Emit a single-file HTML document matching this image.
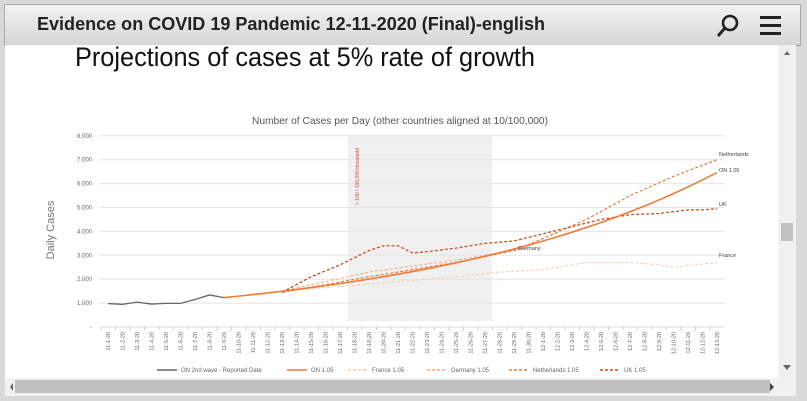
<!DOCTYPE html>
<html><head><meta charset="utf-8"><style>
body{margin:0;width:807px;height:400px;overflow:hidden;background:#d8d8d8;font-family:"Liberation Sans",sans-serif}
#hdr{position:absolute;left:4px;top:4px;width:795px;height:40px;background:linear-gradient(#f2f2f2,#d6d6d6);border:1px solid #aaa;border-bottom:1px solid #999}
#page{position:absolute;left:5px;top:45px;width:773px;height:333px;background:#fff}
#vs{position:absolute;left:778px;top:45px;width:18px;height:333px;background:#f0f0f0}
#hs{position:absolute;left:5px;top:378px;width:791px;height:18px;background:#f0f0f0}
</style></head><body>
<div id="hdr">
<svg style="position:absolute;left:708px;top:8px" width="70" height="26"><circle cx="17" cy="10" r="7" fill="none" stroke="#222" stroke-width="2.6"/><line x1="12" y1="15" x2="5" y2="23" stroke="#222" stroke-width="3"/><rect x="47" y="3" width="21" height="3" fill="#222"/><rect x="47" y="11" width="21" height="3" fill="#222"/><rect x="47" y="19" width="21" height="3" fill="#222"/></svg></div>
<div id="page"></div>
<div id="vs"><svg width="18" height="333"><polygon points="6,10 12,10 9,6" fill="#666"/><rect x="3" y="178" width="12" height="18" fill="#c0c0c0"/><polygon points="5,44 13,44 9,49" fill="#666" transform="translate(0,276)"/></svg></div>
<div id="hs"><svg width="791" height="18"><rect x="10" y="2" width="755" height="13" fill="#bfbfbf"/><polygon points="3,5 3,13 0,9" fill="#666" transform="translate(5,0)"/><polygon points="763,5 763,13 767,9" fill="#444" transform="translate(2,0)"/></svg></div>
<svg id="c" style="position:absolute;left:0;top:0" width="807" height="400"></svg>
<script>
const s=document.getElementById('c');let h='';
const X=d=>108+d*14.5, Y=v=>327-v*0.0239;
h+=`<text x="37" y="30" font-size="18" font-weight="bold" fill="#222" textLength="508" lengthAdjust="spacingAndGlyphs">Evidence on COVID 19 Pandemic 12-11-2020 (Final)-english</text>`;
h+=`<text x="75" y="66" font-size="27" fill="#111" textLength="460" lengthAdjust="spacingAndGlyphs">Projections of cases at 5% rate of growth</text>`;
h+=`<text x="400" y="124" font-size="10" fill="#555" text-anchor="middle" textLength="296" lengthAdjust="spacingAndGlyphs">Number of Cases per Day (other countries aligned at 10/100,000)</text>`;
h+=`<rect x="348" y="136" width="144" height="185" fill="#f0f0f0"/>`;
for(let i=0;i<=8;i++){const y=Y(i*1000);if(i>0)h+=`<line x1="100" x2="724" y1="${y}" y2="${y}" stroke="#e4e4e4"/>`;h+=`<text x="92" y="${y+2}" font-size="6" fill="#666" text-anchor="end">${i?(i+',000'):'-'}</text>`}
h+=`<line x1="100" x2="724" y1="327" y2="327" stroke="#ddd"/>`;
h+=`<text transform="translate(54,230) rotate(-90)" font-size="11" fill="#777" text-anchor="middle">Daily Cases</text>`;
h+=`<text transform="translate(359,205) rotate(-90)" font-size="5" fill="#d04020">&gt; 100 / 100,000 threshold</text>`;
for(let d=0;d<43;d++){const m=d<30?11:12,dd=d<30?d+1:d-29;h+=`<line x1="${X(d)-7}" x2="${X(d)-7}" y1="327" y2="330" stroke="#ccc"/><text transform="translate(${X(d)+2},332) rotate(-90)" font-size="5.5" fill="#666" text-anchor="end">${m}-${dd}-20</text>`}
const pl=(pts,c,w,da)=>{h+=`<polyline fill="none" stroke="${c}" stroke-width="${w}" ${da?`stroke-dasharray="${da}"`:''} points="${pts.map(p=>X(p[0])+','+Y(p[1])).join(' ')}"/>`};
const interp=a=>{let r=[];for(let i=0;i<a.length-1;i++){const[d0,v0]=a[i],[d1,v1]=a[i+1];for(let d=d0;d<d1;d++)r.push([d,v0+(v1-v0)*(d-d0)/(d1-d0)])}r.push(a[a.length-1]);return r};
pl([[0,980],[1,950],[2,1040],[3,960],[4,990],[5,990],[6,1150],[7,1340],[8,1230]],'#666',1.3);
let on=[];for(let d=8;d<=42;d++)on.push([d,1230*Math.pow(1.05,d-8)]);
pl(interp([[12,1500],[18,1800],[24,2100],[27,2300],[30,2400],[33,2700],[36,2700],[38,2600],[39,2500],[42,2700]]),'#f8c8a8',1,'3,2');
pl(interp([[12,1500],[18,2300],[24,2800],[28,3200],[29,3300]]),'#f5a878',1,'3,2');
pl(interp([[12,1450],[18,2100],[24,2700],[28,3200],[30,3700],[33,4500],[36,5500],[39,6300],[42,7000]]),'#ec7a3a',1.2,'3,2');
pl(interp([[12,1450],[14,2100],[16,2600],[18,3200],[19,3400],[20,3400],[21,3100],[22,3150],[24,3300],[26,3500],[28,3600],[30,3900],[32,4200],[34,4500],[36,4700],[38,4750],[40,4900],[41,4900],[42,4950]]),'#c8501c',1.3,'3,2');
pl(on,'#ef7b34',1.6);
[['Netherlands',156],['ON 1.05',172],['UK',206],['France',257]].forEach(([t,y])=>h+=`<text x="719" y="${y}" font-size="5.5" fill="#444">${t}</text>`);
h+=`<text x="518" y="250" font-size="5.5" fill="#444">Germany</text>`;
const lg=[[157,'ON 2nd wave - Reported Date','#666',0],[287,'ON 1.05','#ef7b34',0],[348,'France 1.05','#f8c8a8','3,2'],[427,'Germany 1.05','#f5a878','3,2'],[509,'Netherlands 1.05','#ec7a3a','3,2'],[600,'UK 1.05','#c8501c','3,2']];
lg.forEach(([x,t,c,da])=>{h+=`<line x1="${x}" x2="${x+20}" y1="370" y2="370" stroke="${c}" stroke-width="1.5" ${da?`stroke-dasharray="${da}"`:''}/><text x="${x+24}" y="372" font-size="6" fill="#666">${t}</text>`});
s.innerHTML=h;
</script>
</body></html>
